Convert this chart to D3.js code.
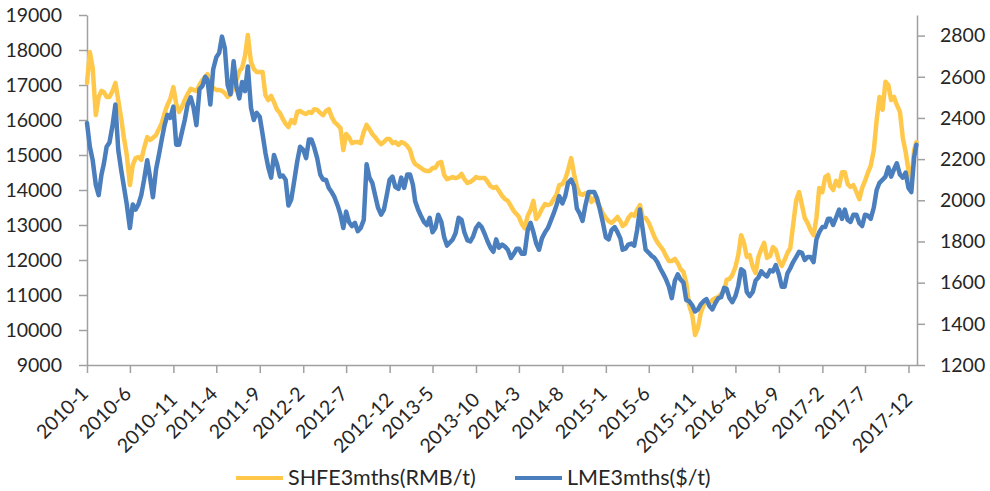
<!DOCTYPE html>
<html>
<head>
<meta charset="utf-8">
<script src="https://cdn.jsdelivr.net/npm/d3@7"></script>
<style>
  html, body { margin: 0; padding: 0; background: #ffffff; }
  svg { display: block; }
  text { font-family: Lato, "Open Sans", sans-serif; fill: #262626; }
</style>
</head>
<body>
<svg id="chart" width="990" height="491"></svg>
<script>
// ---------- data ----------
const seriesNames = ["SHFE3mths(RMB/t)", "LME3mths($/t)"];
const years = [2010, 2011, 2012, 2013, 2014, 2015, 2016, 2017];
const sampleDays = [1, 11, 21];          // three readings per month
const lastDate = "2017-12-29";

// SHFE 3 months, RMB/t (left axis) – 3 readings per month, + last day
const shfe = [
  17060,17940,17490, 16140,16660,16830, 16800,16660,16660, 16830,17060,16570, 16060,15490,15000, 14140,14710,14910,
  14940,14860,15200, 15510,15430,15490, 15570,15740,15910, 16200,16430,16600, 16940,16460,16230, 16370,16570,16740,
  16890,16860,16830, 17000,17140,17230, 17310,17060,16910, 16860,16860,16830, 16770,16660,16740, 16890,17140,17400,
  17490,17830,18430, 17660,17460,17370, 17370,17370,16710, 16570,16690,16510, 16290,16200,16030, 15890,15800,16000,
  15910,16230,16260, 16200,16170,16230, 16200,16310,16290, 16200,16140,16260, 16310,16090,15940, 15860,15770,15140,
  15600,15510,15340, 15370,15370,15340, 15660,15860,15740, 15600,15510,15400, 15310,15370,15460, 15460,15340,15370,
  15290,15370,15340, 15260,15140,14860, 14740,14690,14630, 14570,14540,14540, 14630,14630,14770, 14800,14430,14310,
  14340,14370,14340, 14370,14460,14310, 14200,14230,14290, 14370,14340,14340, 14340,14230,14110, 14060,14090,13970,
  13830,13740,13690, 13540,13400,13310, 13230,13030,12910, 13260,13430,13690, 13170,13290,13460, 13600,13570,13600,
  13740,13860,14140, 14170,14310,14570, 14910,14460,14090, 13890,13860,13910, 13860,13660,13770, 13660,13510,13340,
  13200,13110,13060, 13140,13230,13110, 12970,13030,13200, 13310,13260,13430, 13570,13200,13200, 13060,12860,12660,
  12510,12400,12290, 12110,11970,11970, 12030,11910,11740, 11660,11340,10710, 10430, 9860,10060, 10490,10710,10830,
  10770,10860,10910, 10940,11030,11110, 11430,11460,11570, 11800,12140,12710, 12490,12090,12140, 11800,11630,12090,
  12310,12490,12060, 12110,12370,12290, 11970,11830,12000, 12200,12340,13000, 13710,13940,13570, 13200,13060,12860,
  12710,13200,14060, 13940,14370,14430, 14110,14000,14260, 14110,14510,14510, 14170,14090,14140, 13940,13740,14060,
  14260,14490,14690, 15140,16000,16660, 16290,17090,17000, 16570,16660,16430, 16230,15490,15090, 14570,14290,15140,
  15370
];

// LME 3 months, $/t (right axis)
const lme = [
  2375,2260,2195, 2075,2025,2125, 2175,2260,2280, 2365,2465,2245, 2150,2065,1980, 1865,1980,1955,
  1980,2025,2100, 2195,2110,2015, 2150,2220,2295, 2365,2415,2400, 2455,2270,2270, 2330,2390,2465,
  2500,2450,2365, 2540,2555,2600, 2585,2465,2635, 2695,2715,2795, 2740,2560,2515, 2675,2550,2495,
  2575,2530,2650, 2450,2390,2425, 2405,2320,2230, 2160,2110,2220, 2175,2115,2120, 2100,1975,2005,
  2100,2190,2260, 2245,2205,2295, 2295,2255,2205, 2125,2100,2100, 2060,2040,2015, 1975,1930,1865,
  1945,1895,1875, 1890,1850,1865, 1905,2175,2110, 2085,2025,1965, 1930,1955,2025, 2100,2115,2065,
  2055,2110,2060, 2125,2125,2075, 1995,1955,1925, 1895,1880,1915, 1845,1865,1930, 1895,1820,1780,
  1795,1810,1840, 1915,1905,1845, 1805,1800,1825, 1865,1885,1870, 1835,1800,1770, 1750,1810,1770,
  1785,1775,1760, 1720,1740,1765, 1765,1740,1740, 1855,1890,1845, 1790,1760,1815, 1845,1865,1900,
  1935,1975,2020, 1985,2020,2085, 2100,2070,1960, 1935,1900,1975, 2040,2040,2040, 2010,1955,1895,
  1820,1810,1855, 1870,1845,1815, 1760,1765,1785, 1790,1780,1855, 1955,1855,1760, 1745,1730,1720,
  1700,1670,1645, 1615,1580,1525, 1610,1640,1615, 1600,1515,1510, 1490,1460,1470, 1495,1510,1520,
  1485,1470,1500, 1525,1530,1575, 1570,1525,1505, 1535,1585,1665, 1655,1555,1535, 1555,1610,1625,
  1655,1640,1630, 1660,1655,1685, 1640,1580,1580, 1645,1670,1700, 1725,1750,1745, 1710,1725,1725,
  1700,1810,1845, 1870,1870,1910, 1910,1880,1915, 1955,1910,1955, 1905,1895,1930, 1930,1890,1875,
  1930,1925,1910, 1965,2050,2085, 2100,2115,2160, 2115,2150,2180, 2125,2110,2135, 2060,2040,2210,
  2270
];

const leftTicks = [9000,10000,11000,12000,13000,14000,15000,16000,17000,18000,19000];
const rightTicks = [1200,1400,1600,1800,2000,2200,2400,2600,2800];
const xTickLabels = ["2010-1","2010-6","2010-11","2011-4","2011-9","2012-2","2012-7","2012-12",
  "2013-5","2013-10","2014-3","2014-8","2015-1","2015-6","2015-11","2016-4","2016-9",
  "2017-2","2017-7","2017-12"];

// ---------- build dates (categories) ----------
const parse = d3.timeParse("%Y-%m-%d");
const dates = [];
years.forEach(y => { for (let m = 0; m < 12; m++) sampleDays.forEach(d => dates.push(new Date(y, m, d))); });
dates.push(parse(lastDate));
const rows = dates.map((d, i) => ({ date: d, shfe: shfe[i], lme: lme[i] }));
const tickDates = xTickLabels.map(s => { const [y, m] = s.split("-").map(Number); return new Date(y, m - 1, 1); });

// ---------- layout ----------
const svg = d3.select("#chart");
const L = 87, R = 917, T = 15, B = 365;
const axisColor = "#a0a0a0";
const colors = ["#FFC84A", "#4A7EBD"];
const fontFam = "Lato, 'Open Sans', sans-serif";

const x = d3.scaleTime().domain([new Date(2010, 0, 1), new Date(2017, 11, 31)]).range([L, R]);
const yL = d3.scaleLinear().domain([9000, 19000]).range([B, T]);
const yR = d3.scaleLinear().domain([1200, 2900]).range([B, T]);

svg.append("rect").attr("width", 990).attr("height", 491).attr("fill", "#fff");

function styleAxis(g) {
  g.select(".domain").attr("stroke", axisColor).attr("stroke-width", 1.5);
  g.selectAll(".tick line").attr("stroke", axisColor).attr("stroke-width", 1.5);
  g.selectAll(".tick text").attr("fill", "#262626").style("font-size", "19.5px").style("font-family", fontFam);
}

const gL = svg.append("g").attr("transform", `translate(${L},0)`)
  .call(d3.axisLeft(yL).tickValues(leftTicks).tickFormat(d3.format("d")).tickSize(8).tickSizeOuter(0).tickPadding(17));
styleAxis(gL);

const gR = svg.append("g").attr("transform", `translate(${R},0)`)
  .call(d3.axisRight(yR).tickValues(rightTicks).tickFormat(d3.format("d")).tickSize(8).tickSizeOuter(0).tickPadding(15));
styleAxis(gR);

const gB = svg.append("g").attr("transform", `translate(0,${B})`)
  .call(d3.axisBottom(x).tickValues(tickDates).tickFormat((d, i) => xTickLabels[i]).tickSize(8).tickSizeOuter(0));
styleAxis(gB);
gB.selectAll(".tick text")
  .attr("text-anchor", "end")
  .attr("dy", null).attr("y", null)
  .attr("transform", (d, i) => {
    const extra = xTickLabels[i].length - 6;
    return `translate(${2 + extra * 2.5},${30 + extra * 6}) rotate(-45)`;
  });

// lines
const lineShfe = d3.line().x(d => x(d.date)).y(d => yL(d.shfe));
const lineLme = d3.line().x(d => x(d.date)).y(d => yR(d.lme));

svg.append("path").datum(rows).attr("d", lineShfe)
  .attr("fill", "none").attr("stroke", colors[0]).attr("stroke-width", 4.5)
  .attr("stroke-linejoin", "round").attr("stroke-linecap", "round");
svg.append("path").datum(rows).attr("d", lineLme)
  .attr("fill", "none").attr("stroke", colors[1]).attr("stroke-width", 4.5)
  .attr("stroke-linejoin", "round").attr("stroke-linecap", "round");

// legend
const legendItems = [
  { name: seriesNames[0], color: colors[0], x: 236 },
  { name: seriesNames[1], color: colors[1], x: 515 }
];
const lg = svg.append("g");
legendItems.forEach(it => {
  lg.append("line").attr("x1", it.x).attr("x2", it.x + 47).attr("y1", 478).attr("y2", 478)
    .attr("stroke", it.color).attr("stroke-width", 4);
  lg.append("text").attr("x", it.x + 52).attr("y", 485)
    .style("font-size", "21.5px").style("font-family", fontFam).text(it.name);
});
</script>
</body>
</html>
